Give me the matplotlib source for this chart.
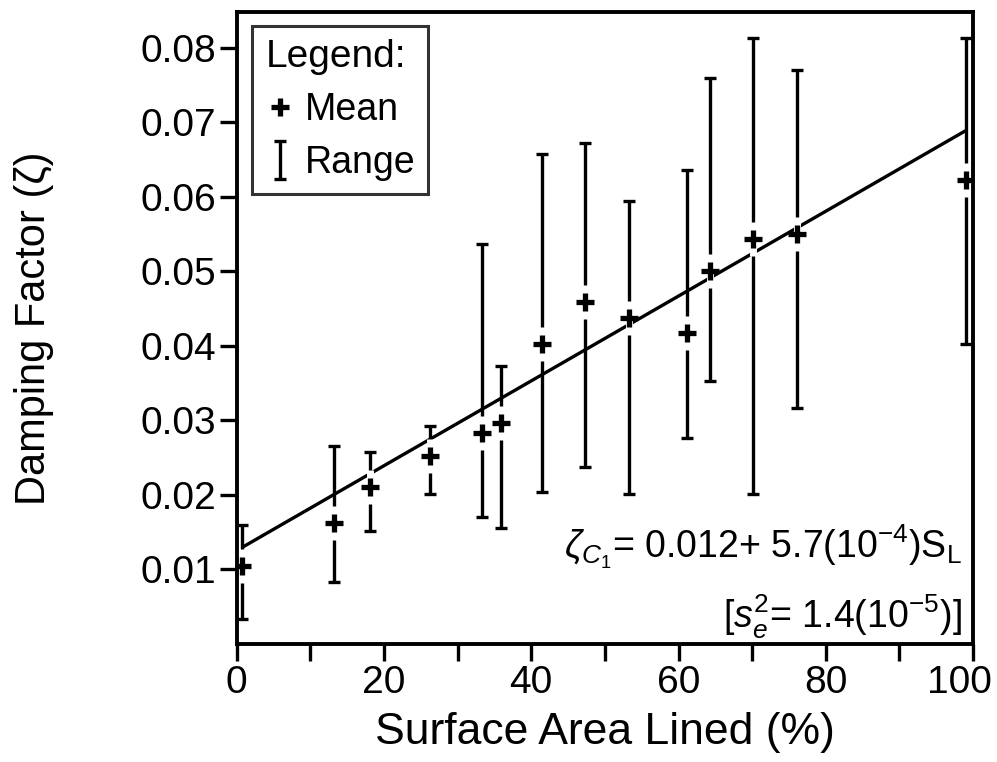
import matplotlib
matplotlib.use("Agg")
import matplotlib.pyplot as plt
from matplotlib.ticker import MultipleLocator, FormatStrFormatter, FuncFormatter

# ---- Data ----
surface_lined = [0.7, 13.2, 18.1, 26.3, 33.3, 35.9, 41.4, 47.3, 53.3, 61.2, 64.3, 70.1, 76.1, 99.0]
damping_mean = [0.0104, 0.0162, 0.0211, 0.0252, 0.0283, 0.0296, 0.0403, 0.0459, 0.0438, 0.0418,
                0.0500, 0.0543, 0.0550, 0.0623]
damping_low = [0.0034, 0.0083, 0.0151, 0.0201, 0.0170, 0.0156, 0.0204, 0.0237, 0.0201, 0.0276,
               0.0353, 0.0201, 0.0317, 0.0403]
damping_high = [0.0160, 0.0265, 0.0257, 0.0292, 0.0537, 0.0373, 0.0658, 0.0673, 0.0595, 0.0636,
                0.0760, 0.0813, 0.0771, 0.0813]

# regression line drawn on the figure
fit_x = [1.0, 99.0]
fit_y = [0.0131, 0.0689]

y_ticks = [0.01, 0.02, 0.03, 0.04, 0.05, 0.06, 0.07, 0.08]

# ---- Style ----
plt.rcParams.update({
    "font.family": ["Liberation Sans", "DejaVu Sans"],
    "mathtext.fontset": "custom",
    "mathtext.rm": "Liberation Sans",
    "mathtext.it": "Liberation Sans:italic",
})

fig = plt.figure(figsize=(9.97, 7.62), dpi=100)
ax = fig.add_axes([0.2374, 0.155, 0.7386, 0.829])

err_lo = [m - lo for m, lo in zip(damping_mean, damping_low)]
err_hi = [hi - m for m, hi in zip(damping_mean, damping_high)]

ax.plot(fit_x, fit_y, color="black", lw=2.4, zorder=2)
bars = ax.errorbar(surface_lined, damping_mean, yerr=[err_lo, err_hi], fmt="none",
                   ecolor="black", elinewidth=2.4, capsize=4, capthick=2.4,
                   label="Range", zorder=2)
# little white break in each bar around the mean mark, as in the scan
ax.plot(surface_lined, damping_mean, ls="none", marker="|", ms=24, mew=5,
        color="white", zorder=3)
means, = ax.plot(surface_lined, damping_mean, ls="none", marker="+", ms=13, mew=3.8,
                 color="black", label="Mean", zorder=4)

ax.set_xlim(0, 100)
ax.set_ylim(0, 0.0848)
ax.xaxis.set_major_locator(MultipleLocator(20))
ax.xaxis.set_minor_locator(MultipleLocator(10))
# "100" is placed by hand below, slightly left of its tick
ax.xaxis.set_major_formatter(FuncFormatter(lambda v, p: "" if v >= 100 else f"{v:.0f}"))
ax.set_yticks(y_ticks)
ax.yaxis.set_major_formatter(FormatStrFormatter("%.2f"))
ax.tick_params(which="both", direction="out", length=12, width=2.4, labelsize=28, pad=3)
ax.tick_params(axis="x", which="both", top=False)
ax.tick_params(axis="y", right=False)
for sp in ax.spines.values():
    sp.set_linewidth(2.8)

ax.annotate("100", xy=(100, 0), xycoords=("data", "axes fraction"),
            xytext=(-14, -21), textcoords="offset pixels",
            ha="center", va="top", fontsize=28, annotation_clip=False)

ax.set_xlabel("Surface Area Lined (%)", fontsize=32, labelpad=8)
ax.set_ylabel("Damping Factor (ζ)", fontsize=30, labelpad=62)

leg = ax.legend(handles=[means, bars], labels=["Mean", "Range"], title="Legend:",
                loc="upper left", bbox_to_anchor=(0.021, 0.978), fontsize=27,
                title_fontsize=28, frameon=True, fancybox=False, edgecolor="black",
                handlelength=0.8, handletextpad=0.25, borderpad=0.35, labelspacing=0.45,
                borderaxespad=0, alignment="left")
leg.get_frame().set_linewidth(2.2)

ax.text(0.985, 0.136, r"$\zeta_{C_1}$= 0.012+ 5.7(10$^{-4}$)S$_\mathrm{L}$",
        transform=ax.transAxes, ha="right", va="baseline", fontsize=27)
ax.text(0.985, 0.025, r"[$s_e^2$= 1.4(10$^{-5}$)]",
        transform=ax.transAxes, ha="right", va="baseline", fontsize=27)

fig.savefig("out.png", dpi=100)
